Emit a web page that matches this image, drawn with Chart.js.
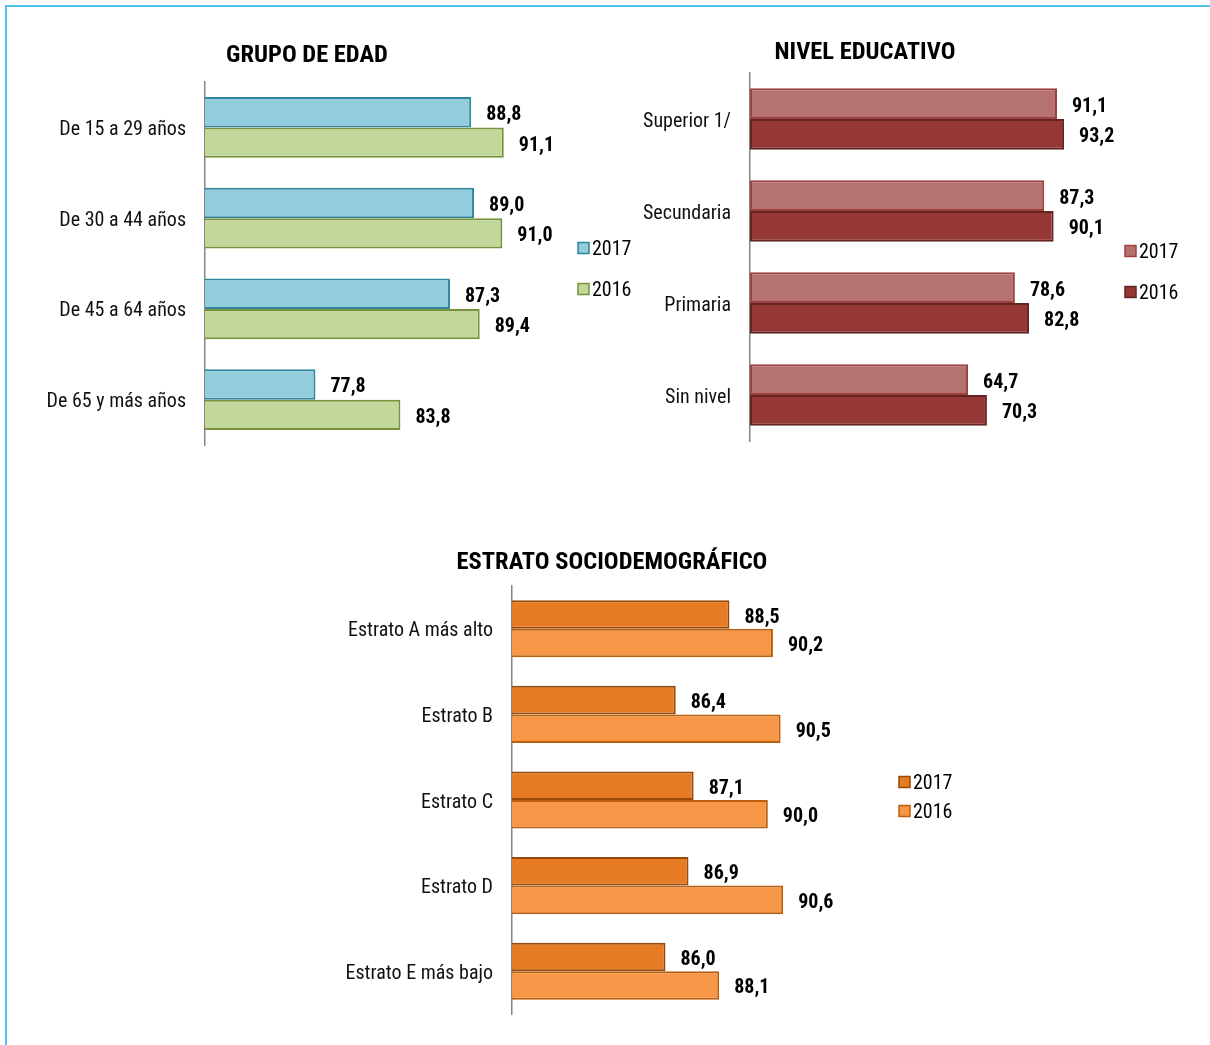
<!DOCTYPE html>
<html>
<head>
<meta charset="utf-8">
<script src="https://cdn.jsdelivr.net/npm/chart.js@4.4.1/dist/chart.umd.min.js"></script>
<style>
  html, body { margin: 0; padding: 0; background: #fff; }
  #page { position: relative; width: 1210px; height: 1045px; overflow: hidden; }
  #frame { position: absolute; left: 5px; top: 5px; width: 1300px; height: 1100px;
           border-top: 2px solid #52c1ef; border-left: 2px solid #52c1ef; }
  canvas { position: absolute; left: 0; top: 0; }
</style>
</head>
<body>
<div id="page">
  <div id="frame"></div>
  <canvas id="edad" width="1210" height="1045"></canvas>
  <canvas id="nivel" width="1210" height="1045"></canvas>
  <canvas id="estrato" width="1210" height="1045"></canvas>
</div>
<script>
const FONT = '"Roboto Condensed", "Liberation Sans Narrow", "Arial Narrow", "DejaVu Sans Condensed", sans-serif';

// series names (legend)
const seriesNames = ['2017', '2016'];

// GRUPO DE EDAD
const edadLabels = ['De 15 a 29 años', 'De 30 a 44 años', 'De 45 a 64 años', 'De 65 y más años'];
const edad2017 = [88.8, 89.0, 87.3, 77.8];
const edad2016 = [91.1, 91.0, 89.4, 83.8];

// NIVEL EDUCATIVO
const nivelLabels = ['Superior 1/', 'Secundaria', 'Primaria', 'Sin nivel'];
const nivel2017 = [91.1, 87.3, 78.6, 64.7];
const nivel2016 = [93.2, 90.1, 82.8, 70.3];

// ESTRATO SOCIODEMOGRÁFICO
const estratoLabels = ['Estrato A más alto', 'Estrato B', 'Estrato C', 'Estrato D', 'Estrato E más bajo'];
const estrato2017 = [88.5, 86.4, 87.1, 86.9, 86.0];
const estrato2016 = [90.2, 90.5, 90.0, 90.6, 88.1];

// draws value labels, the title and the legend of each panel
const decoPlugin = {
    id: 'deco',
    afterDatasetsDraw(chart, args, opts) {
        const ctx = chart.ctx;
        ctx.save();
        ctx.fillStyle = '#000';
        ctx.textBaseline = 'middle';

        // value labels after each bar
        ctx.font = 'bold 20px ' + FONT;
        ctx.textAlign = 'left';
        chart.data.datasets.forEach(function(ds, i) {
            chart.getDatasetMeta(i).data.forEach(function(bar, j) {
                const txt = ds.data[j].toFixed(1).replace('.', ',');
                ctx.fillText(txt, bar.x + 15, bar.y + 3);
            });
        });

        // title
        ctx.font = 'bold 24.5px ' + FONT;
        ctx.textAlign = 'center';
        ctx.fillText(opts.title, opts.titleX, opts.titleY + 2);

        // legend
        ctx.font = '20px ' + FONT;
        ctx.textAlign = 'left';
        chart.data.datasets.forEach(function(ds, i) {
            const y = opts.legendY + i * opts.legendGap;
            ctx.fillStyle = ds.backgroundColor;
            ctx.fillRect(opts.legendX, y - 5.5, 11, 11);
            ctx.strokeStyle = ds.borderColor;
            ctx.lineWidth = 1.5;
            ctx.strokeRect(opts.legendX, y - 5.5, 11, 11);
            ctx.fillStyle = '#000';
            ctx.fillText(ds.label, opts.legendX + 14, y + 2);
        });
        ctx.restore();
    }
};

function makeChart(id, labels, d2017, d2016, colors, box, deco) {
    return new Chart(document.getElementById(id), {
        type: 'bar',
        data: {
            labels: labels,
            datasets: [
                { label: seriesNames[0], data: d2017, backgroundColor: colors[0], borderColor: colors[1],
                  borderWidth: 2, borderSkipped: false, categoryPercentage: 0.667, barPercentage: 1 },
                { label: seriesNames[1], data: d2016, backgroundColor: colors[2], borderColor: colors[3],
                  borderWidth: 2, borderSkipped: false, categoryPercentage: 0.667, barPercentage: 1 }
            ]
        },
        plugins: [decoPlugin],
        options: {
            indexAxis: 'y',
            responsive: false,
            animation: false,
            events: [],
            layout: { padding: { left: 0, top: box.top, right: 1210 - box.right, bottom: 1045 - box.bottom } },
            scales: {
                x: { type: 'linear', min: box.min, max: box.max, display: false },
                y: {
                    grid: { display: false, drawTicks: false },
                    border: { display: true, color: '#868686', width: 1.5 },
                    ticks: { color: '#111', padding: 19, labelOffset: 2.5, font: { family: FONT, size: 20 } },
                    afterFit: function(scale) { scale.width = box.left; }
                }
            },
            plugins: {
                legend: { display: false },
                title: { display: false },
                tooltip: { enabled: false },
                deco: deco
            }
        }
    });
}

makeChart('edad', edadLabels, edad2017, edad2016,
    ['#93cddd', '#31859c', '#c4d79b', '#77933c'],
    { left: 205, right: 559, top: 82, bottom: 445, min: 70, max: 95 },
    { title: 'GRUPO DE EDAD', titleX: 307, titleY: 54, legendX: 578, legendY: 248, legendGap: 41 });

makeChart('nivel', nivelLabels, nivel2017, nivel2016,
    ['#b47270', '#a0403e', '#953735', '#632523'],
    { left: 750, right: 1087, top: 73, bottom: 441, min: 0, max: 100 },
    { title: 'NIVEL EDUCATIVO', titleX: 865, titleY: 51, legendX: 1125, legendY: 251, legendGap: 41 });

makeChart('estrato', estratoLabels, estrato2017, estrato2016,
    ['#e67b24', '#984807', '#f79646', '#b8600f'],
    { left: 512, right: 819, top: 586, bottom: 1020, min: 80, max: 92 },
    { title: 'ESTRATO SOCIODEMOGRÁFICO', titleX: 612, titleY: 561, legendX: 899, legendY: 782, legendGap: 29 });
</script>
</body>
</html>
